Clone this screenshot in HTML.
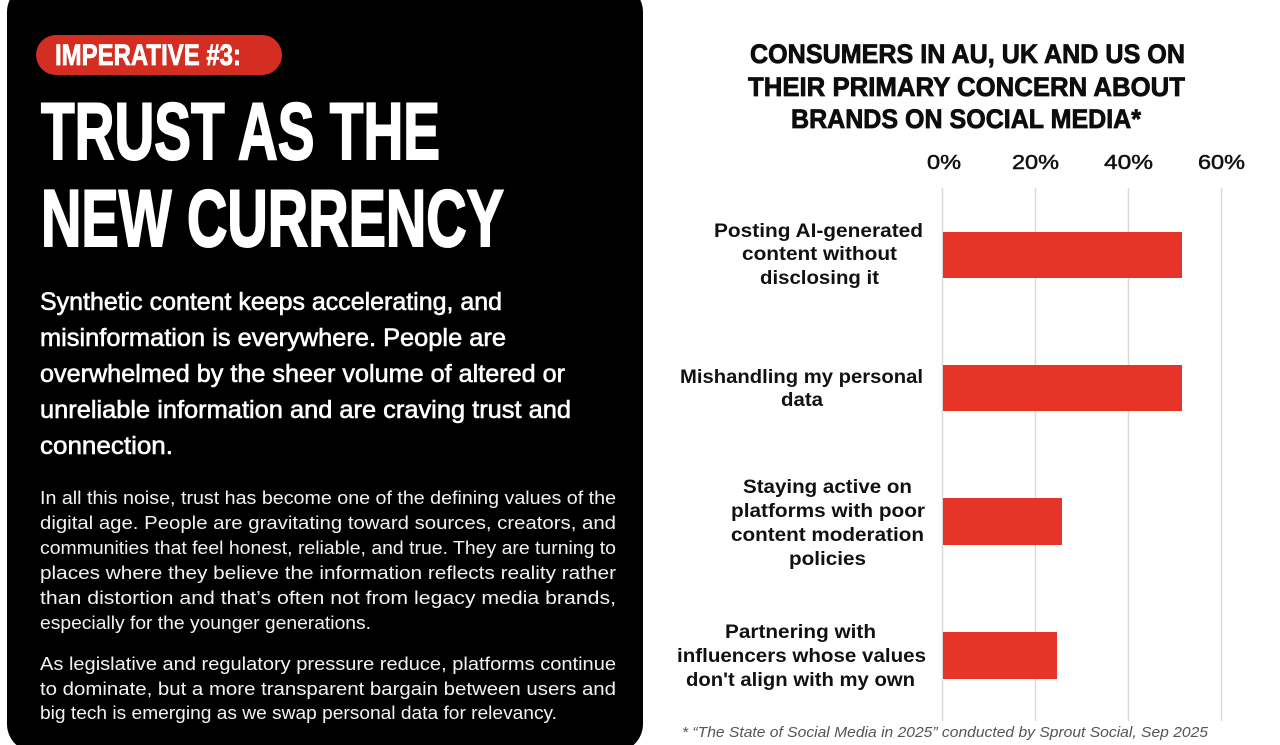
<!DOCTYPE html>
<html>
<head>
<meta charset="utf-8">
<style>
  html,body{margin:0;padding:0;background:#ffffff;}
  svg{display:block;}
</style>
</head>
<body>
<svg width="1280" height="745" viewBox="0 0 1280 745" xmlns="http://www.w3.org/2000/svg">
  <rect x="0" y="0" width="1280" height="745" fill="#ffffff"/>
  <!-- Left black panel -->
  <rect x="7" y="-16" width="636" height="768" rx="28" ry="28" fill="#000000"/>

  <!-- Pill -->
  <rect x="36" y="35" width="246" height="40" rx="20" ry="20" fill="#d32e21"/>
  <text x="55" y="65" font-family="'Liberation Sans', sans-serif" font-weight="bold" font-size="30" fill="#ffffff" stroke="#ffffff" stroke-width="0.8" textLength="186" lengthAdjust="spacingAndGlyphs">IMPERATIVE #3:</text>

  <!-- Headline -->
  <g font-family="'Liberation Sans', sans-serif" font-weight="bold" font-size="81" fill="#ffffff" stroke="#ffffff" stroke-width="2">
    <text x="41" y="159" textLength="399" lengthAdjust="spacingAndGlyphs">TRUST AS THE</text>
    <text x="41" y="246" textLength="463" lengthAdjust="spacingAndGlyphs">NEW CURRENCY</text>
  </g>

  <!-- Subtitle -->
  <g font-family="'Liberation Sans', sans-serif" font-size="25" fill="#ffffff" stroke="#ffffff" stroke-width="0.6">
    <text x="40" y="310" textLength="462" lengthAdjust="spacingAndGlyphs">Synthetic content keeps accelerating, and</text>
    <text x="40" y="346" textLength="466" lengthAdjust="spacingAndGlyphs">misinformation is everywhere. People are</text>
    <text x="40" y="382" textLength="525" lengthAdjust="spacingAndGlyphs">overwhelmed by the sheer volume of altered or</text>
    <text x="40" y="418" textLength="531" lengthAdjust="spacingAndGlyphs">unreliable information and are craving trust and</text>
    <text x="40" y="454" textLength="133" lengthAdjust="spacingAndGlyphs">connection.</text>
  </g>

  <!-- Body -->
  <g font-family="'Liberation Sans', sans-serif" font-size="18" fill="#f2f2f2">
    <text x="40" y="504" textLength="576" lengthAdjust="spacingAndGlyphs">In all this noise, trust has become one of the defining values of the</text>
    <text x="40" y="529" textLength="576" lengthAdjust="spacingAndGlyphs">digital age. People are gravitating toward sources, creators, and</text>
    <text x="40" y="554" textLength="576" lengthAdjust="spacingAndGlyphs">communities that feel honest, reliable, and true. They are turning to</text>
    <text x="40" y="579" textLength="576" lengthAdjust="spacingAndGlyphs">places where they believe the information reflects reality rather</text>
    <text x="40" y="604" textLength="576" lengthAdjust="spacingAndGlyphs">than distortion and that’s often not from legacy media brands,</text>
    <text x="40" y="629" textLength="331" lengthAdjust="spacingAndGlyphs">especially for the younger generations.</text>
    <text x="40" y="670" textLength="576" lengthAdjust="spacingAndGlyphs">As legislative and regulatory pressure reduce, platforms continue</text>
    <text x="40" y="695" textLength="576" lengthAdjust="spacingAndGlyphs">to dominate, but a more transparent bargain between users and</text>
    <text x="40" y="719" textLength="517" lengthAdjust="spacingAndGlyphs">big tech is emerging as we swap personal data for relevancy.</text>
  </g>

  <!-- Chart title -->
  <g font-family="'Liberation Sans', sans-serif" font-weight="bold" font-size="27" fill="#0d0d0d" stroke="#0d0d0d" stroke-width="0.8">
    <text x="750" y="63" textLength="435" lengthAdjust="spacingAndGlyphs">CONSUMERS IN AU, UK AND US ON</text>
    <text x="748" y="96" textLength="437" lengthAdjust="spacingAndGlyphs">THEIR PRIMARY CONCERN ABOUT</text>
    <text x="791" y="128" textLength="350" lengthAdjust="spacingAndGlyphs">BRANDS ON SOCIAL MEDIA*</text>
  </g>

  <!-- Axis labels -->
  <g font-family="'Liberation Sans', sans-serif" font-size="20" fill="#111111" stroke="#111111" stroke-width="0.5">
    <text x="927" y="169" textLength="34" lengthAdjust="spacingAndGlyphs">0%</text>
    <text x="1012" y="169" textLength="47" lengthAdjust="spacingAndGlyphs">20%</text>
    <text x="1104" y="169" textLength="49" lengthAdjust="spacingAndGlyphs">40%</text>
    <text x="1198" y="169" textLength="47" lengthAdjust="spacingAndGlyphs">60%</text>
  </g>

  <!-- Gridlines -->
  <g stroke="#d9d9d9" stroke-width="1.5">
    <line x1="942.5" y1="188" x2="942.5" y2="721"/>
    <line x1="1035.5" y1="188" x2="1035.5" y2="721"/>
    <line x1="1128.5" y1="188" x2="1128.5" y2="721"/>
    <line x1="1221.5" y1="188" x2="1221.5" y2="721"/>
  </g>

  <!-- Bars -->
  <g fill="#e63528">
    <rect x="943" y="232" width="239" height="46"/>
    <rect x="943" y="365" width="239" height="46"/>
    <rect x="943" y="498" width="119" height="47"/>
    <rect x="943" y="632" width="114" height="47"/>
  </g>

  <!-- Category labels -->
  <g font-family="'Liberation Sans', sans-serif" font-weight="bold" font-size="19" fill="#111111">
    <text x="714" y="237" textLength="209" lengthAdjust="spacingAndGlyphs">Posting AI-generated</text>
    <text x="742" y="260" textLength="155" lengthAdjust="spacingAndGlyphs">content without</text>
    <text x="760" y="284" textLength="119" lengthAdjust="spacingAndGlyphs">disclosing it</text>

    <text x="680" y="383" textLength="243" lengthAdjust="spacingAndGlyphs">Mishandling my personal</text>
    <text x="781" y="406" textLength="42" lengthAdjust="spacingAndGlyphs">data</text>

    <text x="743" y="493" textLength="169" lengthAdjust="spacingAndGlyphs">Staying active on</text>
    <text x="731" y="517" textLength="194" lengthAdjust="spacingAndGlyphs">platforms with poor</text>
    <text x="731" y="541" textLength="193" lengthAdjust="spacingAndGlyphs">content moderation</text>
    <text x="789" y="565" textLength="77" lengthAdjust="spacingAndGlyphs">policies</text>

    <text x="725" y="638" textLength="151" lengthAdjust="spacingAndGlyphs">Partnering with</text>
    <text x="677" y="662" textLength="249" lengthAdjust="spacingAndGlyphs">influencers whose values</text>
    <text x="686" y="686" textLength="229" lengthAdjust="spacingAndGlyphs">don't align with my own</text>
  </g>

  <!-- Footnote -->
  <text x="682" y="737" font-family="'Liberation Sans', sans-serif" font-style="italic" font-size="15" fill="#555555" textLength="526" lengthAdjust="spacingAndGlyphs">* “The State of Social Media in 2025” conducted by Sprout Social, Sep 2025</text>
</svg>
</body>
</html>
